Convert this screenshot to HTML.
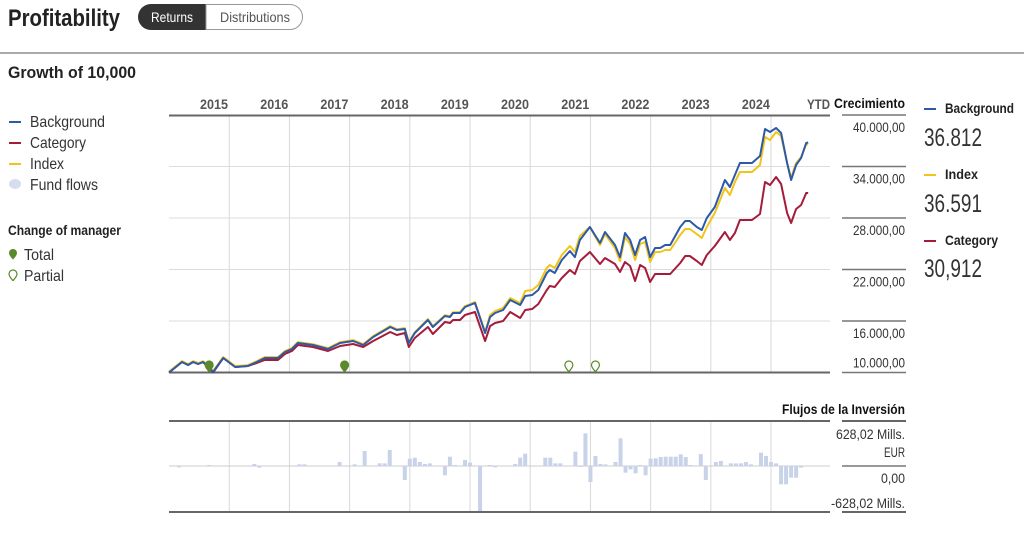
<!DOCTYPE html>
<html><head><meta charset="utf-8"><style>
body{margin:0;background:#fff;width:1024px;height:537px;overflow:hidden;font-family:"Liberation Sans Narrow","Liberation Sans",sans-serif;color:#222}
svg{position:absolute;left:0;top:0}
</style></head><body>
<svg id="c" width="1024" height="537" viewBox="0 0 1024 537">
<text x="8" y="26" font-size="24" font-weight="bold" fill="#222" textLength="112" lengthAdjust="spacingAndGlyphs">Profitability</text>
<g><rect x="138" y="4" width="80" height="26" rx="13" fill="#333"/><rect x="190" y="4" width="20" height="26" fill="#333"/><text x="151" y="22" font-size="14" fill="#fff" textLength="42" lengthAdjust="spacingAndGlyphs">Returns</text></g>
<g><path d="M206 4.5 H290 A12.5 12.5 0 0 1 290 29.5 H206 Z" fill="#fff" stroke="#999"/><text x="220" y="22" font-size="14" fill="#555" textLength="70" lengthAdjust="spacingAndGlyphs">Distributions</text></g>
<line x1="0" y1="53" x2="1024" y2="53" stroke="#555" stroke-width="1"/>
<text x="8" y="78" font-size="17" font-weight="bold" fill="#222" textLength="128" lengthAdjust="spacingAndGlyphs">Growth of 10,000</text>
<g font-size="16" fill="#333">
<line x1="9" y1="122" x2="21" y2="122" stroke="#2d5aa8" stroke-width="2"/><text x="30" y="127" textLength="75" lengthAdjust="spacingAndGlyphs">Background</text>
<line x1="9" y1="143" x2="21" y2="143" stroke="#a51c3a" stroke-width="2"/><text x="30" y="148" textLength="56" lengthAdjust="spacingAndGlyphs">Category</text>
<line x1="9" y1="164" x2="21" y2="164" stroke="#f0c419" stroke-width="2"/><text x="30" y="169" textLength="34" lengthAdjust="spacingAndGlyphs">Index</text>
<ellipse cx="15" cy="184" rx="6" ry="5" fill="#d5ddef"/><text x="30" y="190" textLength="68" lengthAdjust="spacingAndGlyphs">Fund flows</text>
<text x="8" y="235" font-size="14" font-weight="bold" fill="#222" textLength="113" lengthAdjust="spacingAndGlyphs">Change of manager</text>
<path d="M9 253 a4 4 0 0 1 8 0 c0 3 -4 6 -4 7 c0 -1 -4 -4 -4 -7z" fill="#5a8a2a"/><text x="24" y="260" textLength="30" lengthAdjust="spacingAndGlyphs">Total</text>
<path d="M9 274 a4 4 0 0 1 8 0 c0 3 -4 6 -4 7 c0 -1 -4 -4 -4 -7z" fill="none" stroke="#5a8a2a" stroke-width="1.2"/><text x="24" y="281" textLength="40" lengthAdjust="spacingAndGlyphs">Partial</text>
</g>
<text x="834" y="108" font-size="14" font-weight="bold" fill="#111" textLength="71" lengthAdjust="spacingAndGlyphs">Crecimiento</text>
<text x="782" y="414" font-size="14" font-weight="bold" fill="#111" textLength="123" lengthAdjust="spacingAndGlyphs">Flujos de la Inversión</text>
<g fill="#333">
<line x1="924" y1="109" x2="936" y2="109" stroke="#2d5aa8" stroke-width="2"/><text x="945" y="113" font-weight="bold" font-size="14" fill="#222" textLength="69" lengthAdjust="spacingAndGlyphs">Background</text>
<text x="924" y="146" font-size="25" textLength="58" lengthAdjust="spacingAndGlyphs">36.812</text>
<line x1="924" y1="175" x2="936" y2="175" stroke="#f0c419" stroke-width="2"/><text x="945" y="179" font-weight="bold" font-size="14" fill="#222" textLength="33" lengthAdjust="spacingAndGlyphs">Index</text>
<text x="924" y="212" font-size="25" textLength="58" lengthAdjust="spacingAndGlyphs">36.591</text>
<line x1="924" y1="241" x2="936" y2="241" stroke="#a51c3a" stroke-width="2"/><text x="945" y="245" font-weight="bold" font-size="14" fill="#222" textLength="53" lengthAdjust="spacingAndGlyphs">Category</text>
<text x="924" y="277" font-size="25" textLength="58" lengthAdjust="spacingAndGlyphs">30,912</text>
</g>
<g id="plot"></g>
</svg>
<script>
const years=['2015','2016','2017','2018','2019','2020','2021','2022','2023','2024'];
const yTicks=[10000,16000,22000,28000,34000,40000];
const yTickLabels=['10.000,00','16.000,00','22.000,00','28.000,00','34.000,00','40.000,00'];
const months=[0,2.6,3.8,4.8,5.8,6.8,8.8,10.8,13.2,15.7,17.5,19.1,21.7,23.1,24.5,25.7,28.7,31.7,34.1,36.7,38.7,40.7,44.1,45.4,47.0,47.8,49.0,51.6,52.6,55.0,56.0,56.6,58.0,59.0,61.0,63.0,64.0,65.0,66.6,68.0,70.0,71.0,72.4,73.6,75.3,75.9,76.9,78.3,79.9,80.9,81.9,83.9,85.9,86.9,88.9,89.9,90.9,91.9,92.9,93.9,94.9,95.9,96.9,97.9,98.9,99.9,101.9,102.9,103.8,105.2,106.2,107.2,108.8,110.8,111.8,112.8,113.8,116.2,117.8,118.8,119.8,121.0,122.0,123.2,124.0,125.0,126.0,127.0,127.4];
const background=[10000,11220,10870,11220,10990,11220,10060,11690,10640,10760,11220,11690,11690,12390,12740,13440,13200,12740,13440,13670,13200,14140,15300,14950,15070,13440,14600,16120,15300,16580,16470,16930,16930,17630,18100,14600,16470,16930,17280,18450,17860,18910,19030,19610,21590,21940,21590,23110,24150,23450,25440,26950,25090,26370,24850,23450,26250,25440,23690,25440,25790,23450,24500,24500,24850,24850,26950,27650,27650,26950,26600,28000,29280,32430,31610,33010,34410,34410,35220,38370,38020,38490,37900,34410,32430,34180,35000,36740,36812];
const indexSeries=[10100,11320,10970,11320,11090,11320,10160,11790,10740,10860,11320,11790,11790,12490,12840,13540,13300,12840,13540,13770,13300,14240,15400,15050,15170,13540,14700,16220,15400,16680,16570,17030,17030,17730,18200,14720,16700,17160,17510,18680,18090,19490,19610,20190,22170,22520,22170,23690,24740,24040,25900,26950,24850,26130,24500,22990,25790,24970,23110,24970,25200,22870,24040,24040,24270,24270,26020,26720,26720,26130,25670,26950,28580,31490,30680,32190,33360,33360,34180,37440,37090,38020,37560,34410,32660,34410,35100,36610,36591];
const category=[10000,11220,10870,11220,10990,11220,10000,11690,10640,10760,11110,11460,11460,12160,12500,13200,12970,12500,13090,13320,12970,13670,14720,14370,14600,12970,14020,15300,14490,15880,15770,16120,16120,16700,17050,13670,15420,15770,16000,17050,16350,17280,17400,17980,19610,20080,19960,21010,21940,21480,22990,24040,22640,23340,22640,21710,22870,22410,20660,22520,22170,20540,21480,21480,21480,21480,22760,23570,23570,22990,22520,23690,24740,26370,25440,26250,27770,27770,28470,32190,31840,32780,31960,28580,27420,29050,29510,30910,30912];
const flowMonths=[2,8,17,18,26,27,34,37,39,42,43,44,47,48,49,50,51,52,55,56,57,59,60,62,64,65,69,70,71,75,76,77,78,81,82,83,84,85,86,87,89,90,91,92,93,94,95,96,97,98,99,100,101,102,103,104,106,107,109,110,112,113,114,115,116,118,119,120,121,122,123,124,125,126];
const flowValues=[-19,14,28,-23,23,23,56,23,209,37,37,223,-195,102,116,56,28,37,-130,130,14,84,47,-628,14,-19,28,116,172,116,116,37,37,200,-14,456,-223,140,28,23,56,386,-93,-47,-102,14,-130,102,107,126,130,130,130,163,126,14,167,-195,56,70,37,37,37,56,23,186,140,56,37,-256,-256,-163,-163,-23];
const managerTotal=[8,35];
const managerPartial=[79.7,85];

const NS='http://www.w3.org/2000/svg';
const g=document.getElementById('plot');
const X0=169,X1=830,MW=5.017;
const xs=m=>X0+m*MW;
const ys=v=>372.5-(v-10000)*51.5/6000;
const FZ=466,FH=45,FMAX=628.02;
const fy=v=>FZ-v/FMAX*FH;
function el(t,a,p){const e=document.createElementNS(NS,t);for(const k in a)e.setAttribute(k,a[k]);(p||g).appendChild(e);return e;}
years.forEach((y,i)=>{
 const gx=xs((i+1)*12);
 const l=el('line',{x1:gx,y1:116,x2:gx,y2:372,stroke:'#d8d8d8','stroke-width':1});
 
 
 const l2=el('line',{x1:gx,y1:422,x2:gx,y2:511,stroke:'#d8d8d8','stroke-width':1});
 
 
 const t=el('text',{x:xs(i*12)+31,y:109,'font-size':14,'font-weight':'bold',fill:'#555',textLength:28,lengthAdjust:'spacingAndGlyphs'});
 t.textContent=y;
 
 
});
const ytd=el('text',{x:807,y:109,'font-size':14,'font-weight':'bold',fill:'#555',textLength:23,lengthAdjust:'spacingAndGlyphs'});ytd.textContent='YTD';


yTicks.forEach((v,i)=>{
 const yy=ys(v);
 if(i>0&&i<yTicks.length-1){const l=el('line',{x1:X0,y1:yy,x2:X1,y2:yy,stroke:'#dcdcdc','stroke-width':1});
 
 }
 const s=el('line',{x1:842,y1:yy,x2:906,y2:yy,stroke:'#777','stroke-width':1.5});
 
 
 const ty=i==0?yy-5:yy+17;
 const t=el('text',{x:853,y:ty,'font-size':14,fill:'#333',textLength:52,lengthAdjust:'spacingAndGlyphs'});
 t.textContent=yTickLabels[i];
 
 
});
[[115.5,'plot-top-border'],[372.5,'plot-bottom-border']].forEach(([yy,n])=>{const l=el('line',{x1:X0,y1:yy,x2:X1,y2:yy,stroke:'#666','stroke-width':2});
 
 });
const fz=el('line',{x1:X0,y1:FZ,x2:X1,y2:FZ,stroke:'#ccc','stroke-width':1});


[[421,'flow-top-border'],[512,'flow-bottom-border']].forEach(([yy,n])=>{const l=el('line',{x1:X0,y1:yy,x2:X1,y2:yy,stroke:'#666','stroke-width':2});
 
 
 const s=el('line',{x1:842,y1:yy,x2:906,y2:yy,stroke:'#666','stroke-width':2});
 
 });
const fzs=el('line',{x1:842,y1:FZ,x2:906,y2:FZ,stroke:'#777','stroke-width':1.5});


const flowLabels=[['628,02 Mills.',439,69],['EUR',457,21],['0,00',483,24],['-628,02 Mills.',508,74]];
flowLabels.forEach(([s,yy,w])=>{const t=el('text',{x:905-w,y:yy,'font-size':14,fill:'#333',textLength:w,lengthAdjust:'spacingAndGlyphs'});t.textContent=s;
 
 });
flowMonths.forEach((m,i)=>{
 const v=Math.max(-FMAX,Math.min(FMAX,flowValues[i]));
 const y1=fy(Math.max(v,0)),y2=fy(Math.min(v,0));
 const r=el('rect',{x:xs(m)-2,y:y1,width:4,height:Math.max(0.5,y2-y1),fill:'#c8d3ea'});
 
 
});
function line(arr,color,name){
 const d=arr.map((v,i)=>(i?'L':'M')+xs(months[i]).toFixed(1)+' '+ys(v).toFixed(1)).join(' ');
 const p=el('path',{d:d,fill:'none',stroke:color,'stroke-width':2,'stroke-linejoin':'round'});
 
 
}
line(category,'#a51c3a','category-line');
line(indexSeries,'#f0c419','index-line');
line(background,'#2d5aa8','background-line');
function pin(m,filled,name){
 const x=xs(m),y=372;
 const p=el('path',{d:`M${x-4} ${y-7} a4 4 0 0 1 8 0 c0 3 -4 6 -4 7 c0 -1 -4 -4 -4 -7z`,fill:filled?'#5a8a2a':'#fff',stroke:'#5a8a2a','stroke-width':1.2});
 
 
}
managerTotal.forEach(m=>pin(m,true,'manager-change-total'));
managerPartial.forEach(m=>pin(m,false,'manager-change-partial'));
</script>
</body></html>
